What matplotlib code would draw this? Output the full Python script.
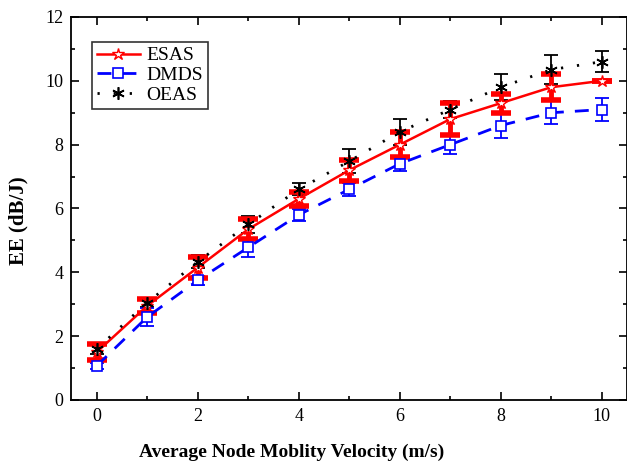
import matplotlib
matplotlib.use('Agg')
import matplotlib.pyplot as plt
from matplotlib.ticker import MultipleLocator

plt.rcParams['font.family'] = ['Liberation Serif', 'DejaVu Serif']

# --- data ---
velocity = [0, 1, 2, 3, 4, 5, 6, 7, 8, 9, 10]

esas = [1.5, 2.95, 4.15, 5.35, 6.3, 7.2, 8.0, 8.8, 9.3, 9.8, 10.0]
esas_err = [0.25, 0.21, 0.32, 0.31, 0.23, 0.33, 0.39, 0.5, 0.3, 0.4, 0.0]

dmds = [1.07, 2.6, 3.75, 4.78, 5.8, 6.6, 7.4, 8.0, 8.6, 9.0, 9.1]
dmds_err = [0.1, 0.28, 0.15, 0.29, 0.18, 0.2, 0.22, 0.3, 0.4, 0.36, 0.37]

oeas = [1.6, 3.05, 4.33, 5.5, 6.6, 7.48, 8.4, 9.1, 9.8, 10.35, 10.6]
oeas_err = [0.16, 0.14, 0.2, 0.27, 0.19, 0.38, 0.4, 0.26, 0.4, 0.45, 0.32]

fig = plt.figure(figsize=(6.27, 4.68), dpi=100)
ax = fig.add_axes([0.114, 0.1453, 0.886, 0.8184])

# error bars first
ax.errorbar(velocity, oeas, yerr=oeas_err, fmt='none', ecolor='black',
            elinewidth=1.3, capsize=5, capthick=1.3, zorder=2)
ax.errorbar(velocity, dmds, yerr=dmds_err, fmt='none', ecolor='blue',
            elinewidth=1.3, capsize=5, capthick=1.3, zorder=2)
ax.errorbar(velocity, esas, yerr=esas_err, fmt='none', ecolor='red',
            elinewidth=3.5, capsize=7, capthick=4, zorder=3)

# lines
ax.plot(velocity, esas, color='red', lw=1.8, marker='*', ms=9,
        mfc='white', mec='red', mew=1, label='ESAS', zorder=4)
ax.plot(velocity, dmds, color='blue', lw=2, ls=(0, (5, 4)), marker='s',
        ms=7, mfc='white', mec='blue', mew=1.2, label='DMDS', zorder=4)
ax.plot(velocity, oeas, color='black', lw=2, ls=(0, (0.8, 5)), marker=(6, 2, 0),
        ms=9, mec='black', mew=1.2, label='OEAS', zorder=4)

ax.set_xlim(-0.5, 10.5)
ax.set_ylim(0, 12)
ax.xaxis.set_major_locator(MultipleLocator(2))
ax.xaxis.set_minor_locator(MultipleLocator(1))
ax.yaxis.set_major_locator(MultipleLocator(2))
ax.yaxis.set_minor_locator(MultipleLocator(1))
ax.tick_params(which='both', direction='in', top=True, right=True,
               labelsize=13, width=1.2)
ax.tick_params(which='major', length=6, pad=6)
ax.tick_params(which='minor', length=3)
for s in ax.spines.values():
    s.set_linewidth(1.3)

# the original figure was cropped on the right, so the x label sits left of centre
ax.set_xlabel('Average Node Moblity Velocity (m/s)', fontsize=14,
              fontweight='bold')
ax.xaxis.set_label_coords(0.397, -0.115)
ax.set_ylabel('EE (dB/J)', fontsize=15, fontweight='bold')
ax.yaxis.set_label_coords(-0.078, 0.467)

leg = ax.legend(loc='upper left', bbox_to_anchor=(0.037, 0.935), fontsize=14,
                frameon=True, fancybox=False, edgecolor='black',
                handlelength=2.2, borderpad=0.25, labelspacing=0.12,
                handletextpad=0.35, borderaxespad=0)
leg.get_frame().set_linewidth(1.2)

fig.savefig('out.png', dpi=100)
